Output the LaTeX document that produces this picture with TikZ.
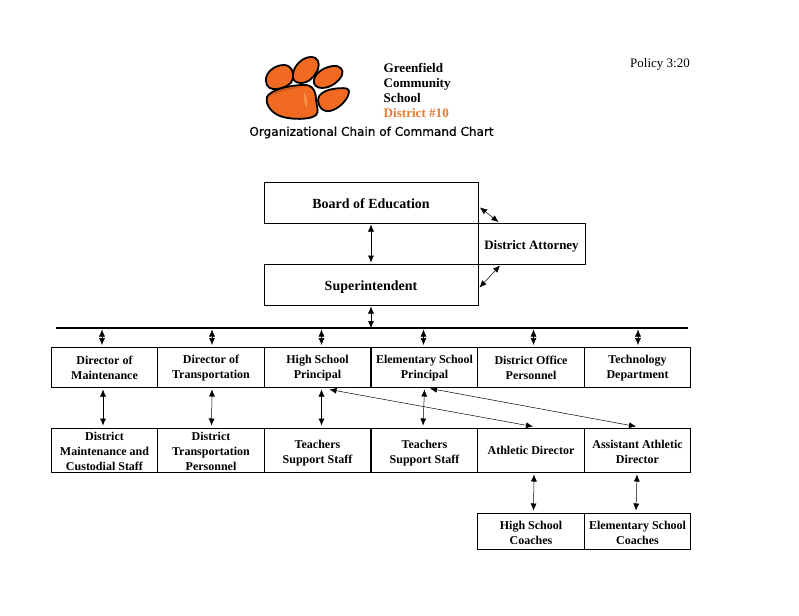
\documentclass[tikz,border=0pt]{standalone}
\usepackage{fontspec}
\setmainfont{Liberation Serif}
\newfontfamily\titlefont[FakeBold=0.5]{DejaVu Sans}
\usetikzlibrary{arrows.meta}
\definecolor{pawfill}{RGB}{241,106,33}
\definecolor{pawlight}{RGB}{246,146,70}
\definecolor{pawdark}{RGB}{205,88,30}
\definecolor{districtcol}{RGB}{232,122,52}
\tikzset{
  textdown/.code={\def\textdrop{#1}},
  chartbox/.style={draw,line width=1pt,rectangle,inner sep=0pt,align=center,textdown=27pt,execute at begin node={\rule{0pt}{\textdrop}},font=\fontsize{12}{15}\selectfont\bfseries},
  bigbox/.style={chartbox,minimum width=214,minimum height=41,font=\fontsize{14}{17}\selectfont\bfseries},
  unitbox/.style={chartbox,minimum width=106.5,minimum height=40,textdown=25.5pt},
  staffbox/.style={chartbox,minimum width=106.5,minimum height=44},
  coachbox/.style={chartbox,minimum width=106.5,minimum height=36},
  link/.style={{Latex[length=7pt,width=6pt]}-{Latex[length=7pt,width=6pt]},line width=0.5pt},
  toe/.style={draw,line width=1.8pt,fill=pawfill}
}
\begin{document}
\begin{tikzpicture}[x=1pt,y=1pt,yscale=-1,xscale=1]
\useasboundingbox (0,0) rectangle (799,615);

%Paw
\draw[toe] (266,81) .. controls (265,73) and (274,65) .. (284,65) .. controls (291,65) and (294,72) .. (293,78) .. controls (292,85) and (284,88) .. (277,89) .. controls (271,90) and (266,87) .. (266,81) -- cycle;
\draw[toe] (293,74) .. controls (294,65) and (303,57) .. (311,57) .. controls (318,57) and (320,63) .. (318,69) .. controls (315,76) and (309,83) .. (301,83) .. controls (295,83) and (292,80) .. (293,74) -- cycle;
\draw[toe] (314,80) .. controls (315,73) and (324,67) .. (333,66) .. controls (340,65) and (344,70) .. (342,75) .. controls (339,82) and (330,88) .. (322,88) .. controls (317,88) and (313,85) .. (314,80) -- cycle;
\draw[toe] (318,101) .. controls (317,95) and (325,90) .. (333,89) .. controls (339,88) and (349,87) .. (349,91) .. controls (349,99) and (339,109) .. (330,111) .. controls (323,112) and (319,108) .. (318,101) -- cycle;
\draw[toe] (267,97) .. controls (270,90) and (290,85) .. (303,85) .. controls (313,84) and (316,92) .. (316,100) .. controls (317,107) and (319,112) .. (316,115) .. controls (311,120) and (290,120) .. (280,116) .. controls (272,113) and (265,105) .. (267,97) -- cycle;
\fill[pawdark] (268.5,97) .. controls (272,91) and (290,86.5) .. (303,86.5) .. controls (292,89) and (277,92) .. (268.5,97) -- cycle;
\fill[pawlight] (304,92) .. controls (307,96) and (308,102) .. (307,108) .. controls (304,104) and (303,98) .. (304,92) -- cycle;

%Heading
\node[anchor=north west,inner sep=0pt,align=left,font=\fontsize{13.1}{15}\selectfont\bfseries] (school) at (383.5,63) {Greenfield\\Community\\School\\\textcolor{districtcol}{District \#10}};
\node[inner sep=0pt,font=\titlefont\fontsize{12.05}{14}\selectfont] (charttitle) at (371.5,132.5) {Organizational Chain of Command Chart};
\node[inner sep=0pt,font=\fontsize{13}{15}\selectfont] (policy) at (660,64) {Policy 3:20};

%Top of the chart
\node[bigbox,textdown=12.5pt] (board) at (371,202.5) {Board of Education};
\node[bigbox,textdown=15.5pt] (super) at (371,284.5) {Superintendent};
\node[chartbox,textdown=14.7pt,minimum width=107,minimum height=41,font=\fontsize{12.9}{15}\selectfont\bfseries] (attorney) at (531.5,243.5) {District Attorney};

\coordinate (busleft) at (56,328);
\coordinate (busright) at (688,328);
\draw[line width=1.5pt] (busleft) -- (busright);

%Row of directors
\node[unitbox] (dirmaint) at (104.5,367) {Director of\\Maintenance};
\node[unitbox] (dirtrans) at (211,367) {Director of\\Transportation};
\node[unitbox] (hsprin) at (317.5,367) {High School\\Principal};
\node[unitbox] (esprin) at (424.5,367) {Elementary School\\Principal};
\node[unitbox] (officestaff) at (531,367) {District Office\\Personnel};
\node[unitbox] (techdept) at (637.5,367) {Technology\\Department};

%Row of staff
\node[staffbox,textdown=41pt] (maintstaff) at (104.5,450) {District\\Maintenance and\\Custodial Staff};
\node[staffbox,textdown=41pt] (transstaff) at (211,450) {District\\Transportation\\Personnel};
\node[staffbox,textdown=29pt] (hsstaff) at (317.5,450) {Teachers\\Support Staff};
\node[staffbox,textdown=29pt] (esstaff) at (424.5,450) {Teachers\\Support Staff};
\node[staffbox,textdown=10pt] (athdir) at (531,450) {Athletic Director};
\node[staffbox] (asstdir) at (637.5,450) {Assistant Athletic\\Director};

%Coaches
\node[coachbox] (hscoach) at (531,531) {High School\\Coaches};
\node[coachbox] (escoach) at (637.5,531) {Elementary School\\Coaches};

%Links
\draw[link] ([yshift=1pt]board.south) -- ([yshift=-1pt]super.north);
\draw[link] ([shift={(1.5pt,-16pt)}]board.south east) -- ([xshift=-33pt,yshift=-0.5pt]attorney.north);
\draw[link] ([xshift=1pt,yshift=-18pt]super.south east) -- ([xshift=-31.5pt,yshift=1pt]attorney.south);
\draw[link] ([yshift=1pt]super.south) -- (super.south |- busleft);
\foreach \unit/\shift in {dirmaint/-2.5,dirtrans/1,hsprin/4,esprin/-1,officestaff/2.5,techdept/0.5}
  \draw[link] ([xshift=\shift pt]\unit.north |- busleft) ++(0,1.5) -- ([xshift=\shift pt,yshift=-1.5pt]\unit.north);
\draw[link] ([xshift=-1.5pt,yshift=2pt]dirmaint.south) -- ([xshift=-1.5pt,yshift=-2pt]maintstaff.north);
\draw[link] ([xshift=1pt,yshift=2pt]dirtrans.south) -- ([xshift=0.5pt,yshift=-2pt]transstaff.north);
\draw[link] ([xshift=4pt,yshift=2pt]hsprin.south) -- ([xshift=4pt,yshift=-2pt]hsstaff.north);
\draw[link] ([xshift=0pt,yshift=2pt]esprin.south) -- ([xshift=-1.5pt,yshift=-2pt]esstaff.north);
\draw[link] ([xshift=12pt,yshift=2pt]hsprin.south) -- ([xshift=2pt,yshift=-1pt]athdir.north);
\draw[link] ([xshift=5.5pt,yshift=1pt]esprin.south) -- ([xshift=-1.5pt,yshift=-1pt]asstdir.north);
\draw[link] ([xshift=3pt,yshift=2pt]athdir.south) -- ([xshift=2.5pt,yshift=-2pt]hscoach.north);
\draw[link] ([xshift=-0.5pt,yshift=2pt]asstdir.south) -- ([xshift=-1.5pt,yshift=-2pt]escoach.north);
\end{tikzpicture}
\end{document}
